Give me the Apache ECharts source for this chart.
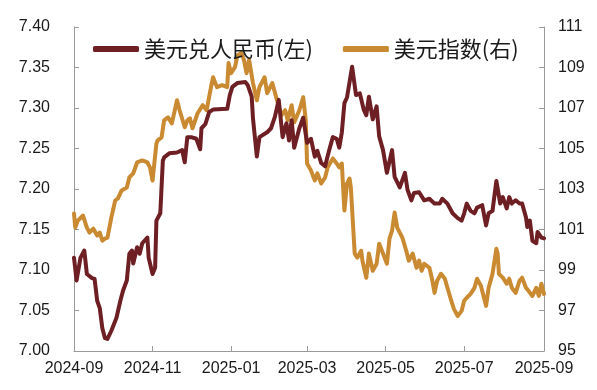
<!DOCTYPE html>
<html>
<head>
<meta charset="utf-8">
<script src="https://cdn.jsdelivr.net/npm/echarts@6/dist/echarts.min.js"></script>
<style>
html,body{margin:0;padding:0;background:#fff;}
#chart{width:597px;height:390px;}
</style>
</head>
<body>
<div id="chart"></div>
<script>
// Axis range (category days) and tick labels
var startDate = '2024-09-01';
var endDate = '2025-09-01';
var tickMonths = ['09', '11', '01', '03', '05', '07'];
var seriesNames = ['美元兑人民币(左)', '美元指数(右)'];

// 美元兑人民币 (left axis)
var cnyDates = ['2024-09-01','2024-09-03','2024-09-06','2024-09-09','2024-09-11','2024-09-15','2024-09-17','2024-09-19','2024-09-21','2024-09-23','2024-09-25','2024-09-27','2024-09-30','2024-10-04','2024-10-07','2024-10-09','2024-10-12','2024-10-14','2024-10-16','2024-10-17','2024-10-20','2024-10-22','2024-10-24','2024-10-28','2024-10-29','2024-11-01','2024-11-03','2024-11-04','2024-11-07','2024-11-09','2024-11-10','2024-11-14','2024-11-20','2024-11-24','2024-11-26','2024-11-28','2024-12-01','2024-12-05','2024-12-08','2024-12-09','2024-12-12','2024-12-15','2024-12-18','2024-12-29','2024-12-31','2025-01-02','2025-01-06','2025-01-12','2025-01-14','2025-01-17','2025-01-18','2025-01-21','2025-01-23','2025-01-29','2025-02-01','2025-02-04','2025-02-07','2025-02-10','2025-02-13','2025-02-15','2025-02-17','2025-02-19','2025-02-23','2025-02-26','2025-03-01','2025-03-04','2025-03-07','2025-03-09','2025-03-12','2025-03-15','2025-03-18','2025-03-21','2025-03-24','2025-03-26','2025-03-28','2025-03-30','2025-04-01','2025-04-05','2025-04-08','2025-04-11','2025-04-14','2025-04-16','2025-04-18','2025-04-21','2025-04-24','2025-04-26','2025-04-29','2025-05-02','2025-05-06','2025-05-08','2025-05-12','2025-05-16','2025-05-18','2025-05-21','2025-05-23','2025-05-27','2025-05-31','2025-06-04','2025-06-08','2025-06-12','2025-06-14','2025-06-18','2025-06-22','2025-06-26','2025-06-29','2025-07-01','2025-07-03','2025-07-06','2025-07-09','2025-07-11','2025-07-15','2025-07-18','2025-07-20','2025-07-23','2025-07-26','2025-07-27','2025-07-29','2025-07-31','2025-08-03','2025-08-05','2025-08-07','2025-08-10','2025-08-13','2025-08-15','2025-08-18','2025-08-19','2025-08-21','2025-08-23','2025-08-26','2025-08-27','2025-08-30','2025-09-01'];
var cnyValues = [7.115,7.087,7.115,7.124,7.095,7.090,7.089,7.062,7.053,7.028,7.016,7.015,7.025,7.041,7.062,7.074,7.087,7.120,7.124,7.108,7.128,7.120,7.133,7.140,7.115,7.095,7.103,7.161,7.170,7.235,7.239,7.244,7.245,7.248,7.233,7.264,7.264,7.262,7.249,7.275,7.280,7.295,7.298,7.299,7.316,7.326,7.331,7.332,7.328,7.314,7.287,7.240,7.264,7.270,7.275,7.289,7.310,7.264,7.281,7.260,7.285,7.251,7.275,7.288,7.257,7.262,7.240,7.247,7.232,7.228,7.247,7.264,7.262,7.251,7.270,7.306,7.313,7.351,7.316,7.318,7.298,7.291,7.314,7.286,7.302,7.265,7.248,7.220,7.248,7.215,7.202,7.220,7.199,7.186,7.195,7.196,7.186,7.188,7.182,7.182,7.188,7.182,7.170,7.164,7.161,7.170,7.182,7.173,7.170,7.177,7.180,7.155,7.170,7.173,7.210,7.212,7.182,7.190,7.176,7.190,7.182,7.186,7.182,7.182,7.165,7.153,7.161,7.136,7.133,7.147,7.140,7.139];

// 美元指数 (right axis)
var dxyDates = ['2024-09-01','2024-09-02','2024-09-04','2024-09-08','2024-09-11','2024-09-13','2024-09-16','2024-09-19','2024-09-21','2024-09-23','2024-09-25','2024-09-27','2024-09-30','2024-10-03','2024-10-05','2024-10-08','2024-10-12','2024-10-14','2024-10-17','2024-10-20','2024-10-24','2024-10-28','2024-10-30','2024-11-01','2024-11-04','2024-11-05','2024-11-08','2024-11-10','2024-11-13','2024-11-16','2024-11-20','2024-11-22','2024-11-26','2024-11-28','2024-11-30','2024-12-02','2024-12-06','2024-12-10','2024-12-13','2024-12-17','2024-12-18','2024-12-21','2024-12-25','2024-12-29','2024-12-30','2025-01-01','2025-01-04','2025-01-06','2025-01-09','2025-01-11','2025-01-13','2025-01-15','2025-01-18','2025-01-21','2025-01-23','2025-01-27','2025-01-29','2025-02-02','2025-02-05','2025-02-09','2025-02-12','2025-02-14','2025-02-17','2025-02-19','2025-02-23','2025-02-26','2025-02-28','2025-03-01','2025-03-04','2025-03-07','2025-03-09','2025-03-12','2025-03-15','2025-03-17','2025-03-21','2025-03-24','2025-03-26','2025-03-28','2025-03-30','2025-04-01','2025-04-03','2025-04-04','2025-04-07','2025-04-09','2025-04-12','2025-04-13','2025-04-16','2025-04-18','2025-04-21','2025-04-24','2025-04-26','2025-04-29','2025-05-02','2025-05-04','2025-05-06','2025-05-08','2025-05-10','2025-05-14','2025-05-17','2025-05-19','2025-05-22','2025-05-25','2025-05-27','2025-05-29','2025-05-31','2025-06-04','2025-06-06','2025-06-08','2025-06-10','2025-06-13','2025-06-16','2025-06-18','2025-06-21','2025-06-23','2025-06-26','2025-06-29','2025-07-01','2025-07-03','2025-07-06','2025-07-09','2025-07-11','2025-07-14','2025-07-17','2025-07-18','2025-07-20','2025-07-23','2025-07-26','2025-07-27','2025-07-28','2025-07-31','2025-08-03','2025-08-05','2025-08-07','2025-08-10','2025-08-13','2025-08-15','2025-08-18','2025-08-20','2025-08-23','2025-08-26','2025-08-28','2025-08-30','2025-09-01'];
var dxyValues = [101.79,101.09,101.44,101.69,101.09,100.85,101.04,100.70,100.85,100.45,100.55,100.60,101.59,102.43,102.53,102.93,103.07,103.57,103.77,104.31,104.41,104.31,104.07,103.42,105.25,105.40,105.55,106.39,106.54,106.24,107.38,106.89,106.05,106.39,106.49,106.00,106.74,107.14,106.89,108.23,108.52,108.03,108.13,108.03,109.22,108.72,109.02,109.61,109.71,109.37,108.72,109.37,108.23,107.38,108.03,108.52,107.73,108.23,107.53,106.64,106.89,106.39,107.14,106.29,106.89,107.53,106.39,104.26,103.92,103.42,103.77,103.27,103.57,104.07,104.51,104.26,104.07,104.26,101.94,103.27,103.52,103.07,99.81,99.61,99.95,99.46,98.62,99.81,98.96,99.31,100.30,99.81,99.31,100.55,100.94,101.84,101.09,100.60,99.95,99.46,99.81,99.11,99.46,98.96,99.31,99.11,98.57,97.87,98.47,98.81,98.57,98.12,97.48,97.08,96.73,96.98,97.48,97.63,97.82,98.12,98.57,98.22,97.48,97.23,98.12,98.81,100.05,99.81,98.81,98.62,98.32,98.57,98.12,97.87,98.47,98.62,98.12,97.97,97.72,98.12,97.72,98.32,97.82];

function pad(n){return n < 10 ? '0' + n : '' + n;}
function buildDays(s, e){
  var out = [];
  var d = new Date(s + 'T00:00:00Z');
  var end = new Date(e + 'T00:00:00Z');
  while (d <= end) {
    out.push(d.getUTCFullYear() + '-' + pad(d.getUTCMonth() + 1) + '-' + pad(d.getUTCDate()));
    d.setUTCDate(d.getUTCDate() + 1);
  }
  return out;
}
var days = buildDays(startDate, endDate);
function mapSeries(dates, vals){
  var m = {};
  for (var i = 0; i < dates.length; i++) m[dates[i]] = vals[i];
  return days.map(function(d){ return m.hasOwnProperty(d) ? m[d] : null; });
}
function isTick(idx, val){
  return val.slice(8) === '01' && tickMonths.indexOf(val.slice(5, 7)) >= 0;
}

var redColor = '#6e1f24';
var goldColor = '#c98a32';
var axisColor = '#9a9a9a';
var labelFont = "'Liberation Sans', Arial, sans-serif";

var chart = echarts.init(document.getElementById('chart'), null, {renderer: 'canvas'});
chart.setOption({
  animation: false,
  backgroundColor: '#fff',
  grid: {left: 74, right: 53, top: 27, bottom: 39, containLabel: false, outerBoundsMode: 'none'},
  legend: {
    left: 88, top: 33,
    itemWidth: 46, itemHeight: 6, itemGap: 30,
    icon: 'roundRect',
    textStyle: {fontSize: 22, color: '#1a1a1a', fontFamily: "'Noto Sans CJK SC', sans-serif"},
    data: [
      {name: seriesNames[0], itemStyle: {color: redColor}},
      {name: seriesNames[1], itemStyle: {color: goldColor}}
    ]
  },
  xAxis: {
    type: 'category',
    data: days,
    boundaryGap: false,
    axisLine: {show: true, lineStyle: {color: axisColor, width: 1}},
    axisTick: {show: true, inside: true, length: 5, interval: isTick, lineStyle: {color: axisColor}},
    axisLabel: {
      interval: isTick, margin: 10,
      fontSize: 16, color: '#1a1a1a', fontFamily: labelFont,
      formatter: function(v){ return v.slice(0, 7); }
    },
    splitLine: {show: false}
  },
  yAxis: [
    {
      type: 'value', min: 7.0, max: 7.4, interval: 0.05, position: 'left',
      axisLine: {show: true, lineStyle: {color: axisColor}},
      axisTick: {show: true, inside: true, length: 5, lineStyle: {color: axisColor}},
      axisLabel: {margin: 24, fontSize: 16, color: '#1a1a1a', fontFamily: labelFont,
        formatter: function(v){ return v.toFixed(2); }},
      splitLine: {show: false}
    },
    {
      type: 'value', min: 95, max: 111, interval: 2, position: 'right',
      axisLine: {show: true, lineStyle: {color: axisColor}},
      axisTick: {show: true, inside: true, length: 5, lineStyle: {color: axisColor}},
      axisLabel: {margin: 14, fontSize: 16, color: '#1a1a1a', fontFamily: labelFont},
      splitLine: {show: false}
    }
  ],
  series: [
    {
      name: seriesNames[0], type: 'line', yAxisIndex: 0,
      data: mapSeries(cnyDates, cnyValues), connectNulls: true,
      showSymbol: false, symbol: 'none',
      lineStyle: {color: redColor, width: 4, join: 'round', cap: 'round'},
      itemStyle: {color: redColor}, z: 3
    },
    {
      name: seriesNames[1], type: 'line', yAxisIndex: 1,
      data: mapSeries(dxyDates, dxyValues), connectNulls: true,
      showSymbol: false, symbol: 'none',
      lineStyle: {color: goldColor, width: 4, join: 'round', cap: 'round'},
      itemStyle: {color: goldColor}, z: 2
    }
  ]
});
</script>
</body>
</html>
